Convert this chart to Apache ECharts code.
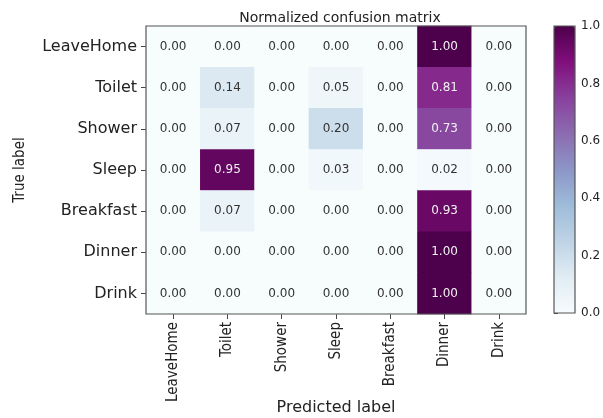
<!DOCTYPE html>
<html><head><meta charset="utf-8">
<script src="https://cdn.jsdelivr.net/npm/echarts@6/dist/echarts.min.js"></script>
<style>html,body{margin:0;padding:0;background:#fff}#c{width:603px;height:418px}</style>
</head><body><div id="c"></div>
<script>
const categories = ['LeaveHome','Toilet','Shower','Sleep','Breakfast','Dinner','Drink'];
const rowLeaveHome = [0.00,0.00,0.00,0.00,0.00,1.00,0.00];
const rowToilet    = [0.00,0.14,0.00,0.05,0.00,0.81,0.00];
const rowShower    = [0.00,0.07,0.00,0.20,0.00,0.73,0.00];
const rowSleep     = [0.00,0.95,0.00,0.03,0.00,0.02,0.00];
const rowBreakfast = [0.00,0.07,0.00,0.00,0.00,0.93,0.00];
const rowDinner    = [0.00,0.00,0.00,0.00,0.00,1.00,0.00];
const rowDrink     = [0.00,0.00,0.00,0.00,0.00,1.00,0.00];
const rows = [rowLeaveHome,rowToilet,rowShower,rowSleep,rowBreakfast,rowDinner,rowDrink];
const colorTicks = [0.0,0.2,0.4,0.6,0.8,1.0];

const data = [];
rows.forEach((r,i)=>r.forEach((v,j)=>data.push({value:[j,i,v],label:{color:v>0.5?'#f2f2f2':'#333'}})));
const BuPu = ['#f7fcfd','#e0ecf4','#bfd3e6','#9ebcda','#8c96c6','#8c6bb1','#88419d','#810f7c','#4d004b'];
const chart = echarts.init(document.getElementById('c'));
chart.setOption({
  animation:false,
  title:{text:'Normalized confusion matrix',left:335,top:6,textAlign:'center',
    textStyle:{fontFamily:'DejaVu Sans',fontSize:14,fontWeight:'normal',color:'#222'}},
  grid:[
    {left:146,top:26,width:380,height:288,show:true,borderColor:'#555',borderWidth:1.2,backgroundColor:'transparent',z:5,containLabel:false,outerBoundsMode:'none'},
    {left:554,top:26,width:21,height:287,show:true,borderColor:'#555',borderWidth:1.2,backgroundColor:'transparent',z:10,containLabel:false,outerBoundsMode:'none'}
  ],
  xAxis:[
    {type:'category',data:categories,gridIndex:0,name:'Predicted label',nameLocation:'middle',nameGap:86,nameMoveOverlap:false,
      nameTextStyle:{fontFamily:'DejaVu Sans',fontSize:16,color:'#222'},
      axisLine:{show:false},axisTick:{show:true,alignWithLabel:true,length:5,lineStyle:{color:'#444'}},
      axisLabel:{rotate:90,fontFamily:'DejaVu Sans Condensed',fontSize:15,color:'#222',margin:8},splitLine:{show:false}},
    {type:'value',gridIndex:1,show:false}
  ],
  yAxis:[
    {type:'category',data:categories,inverse:true,gridIndex:0,name:'True label',nameLocation:'middle',nameGap:118,nameRotate:90,nameMoveOverlap:false,
      nameTextStyle:{fontFamily:'DejaVu Sans Condensed',fontSize:15,color:'#222'},
      axisLine:{show:false},axisTick:{show:true,alignWithLabel:true,length:5,lineStyle:{color:'#444'}},
      axisLabel:{fontFamily:'DejaVu Sans',fontSize:16,color:'#222',margin:9},splitLine:{show:false}},
    {type:'value',gridIndex:1,min:0,max:1,interval:0.2,position:'right',
      axisLine:{show:false},axisTick:{show:true,length:4,lineStyle:{color:'#444'}},
      axisLabel:{fontFamily:'DejaVu Sans',fontSize:12,color:'#222',margin:6,formatter:v=>v.toFixed(1)},splitLine:{show:false}}
  ],
  visualMap:{type:'continuous',min:0,max:1,seriesIndex:0,calculable:false,hoverLink:false,
    left:549,top:21,itemWidth:21,itemHeight:287,padding:5,text:null,showLabel:false,
    inRange:{color:BuPu},textStyle:{color:'transparent'}},
  series:[{type:'heatmap',xAxisIndex:0,yAxisIndex:0,data:data,
    label:{show:true,fontFamily:'DejaVu Sans',fontSize:12,
      formatter:p=>p.value[2].toFixed(2)},
    emphasis:{disabled:true}}]
});
</script></body></html>
